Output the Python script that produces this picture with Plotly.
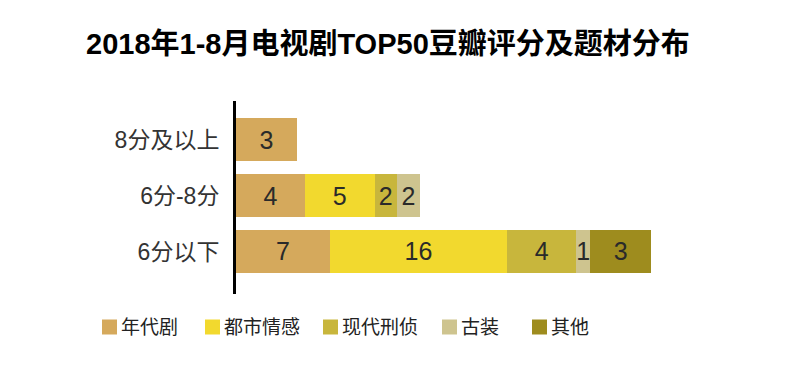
import plotly.graph_objects as go

# ---- data ----
categories = ["6分以下", "6分-8分", "8分及以上"]          # bottom -> top
genres = ["年代剧", "都市情感", "现代刑侦", "古装", "其他"]
# counts shown as labels on the bars
count_niandai = [7, 4, 3]
count_dushi = [16, 5, None]
count_xingzhen = [4, 2, None]
count_guzhuang = [1, 2, None]
count_qita = [3, None, None]
# drawn bar lengths (bars are not drawn to scale in the original)
len_niandai = [94, 69, 61]
len_dushi = [177, 69.6, None]
len_xingzhen = [69.3, 22.4, None]
len_guzhuang = [13.7, 23, None]
len_qita = [61.3, None, None]

colors = ["#D5A95C", "#F2D92E", "#C8B63C", "#CEC48F", "#9E8C1E"]

counts = [count_niandai, count_dushi, count_xingzhen, count_guzhuang, count_qita]
lengths = [len_niandai, len_dushi, len_xingzhen, len_guzhuang, len_qita]

# ---- layout constants (pixels) ----
W, H = 800, 369
L, T, B = 236, 101, 294
PW = 500
R = W - L - PW
PH = B - T

FONT = "Liberation Sans, Noto Sans CJK SC, sans-serif"

fig = go.Figure()
for g, c, n, ln in zip(genres, colors, counts, lengths):
    fig.add_trace(go.Bar(
        y=categories, x=ln, orientation="h", name=g,
        marker=dict(color=c, line=dict(width=0)),
        text=[str(v) if v is not None else "" for v in n],
        textposition="inside", insidetextanchor="middle", textangle=0,
        textfont=dict(family=FONT, size=25, color="#2a2a2a"),
        hoverinfo="skip",
    ))

# manual legend
leg_x = [102, 205, 323, 442, 532]
leg_y = 327
sq = 15
shapes = []
annotations = []
for g, c, lx in zip(genres, colors, leg_x):
    x0 = (lx - L) / PW
    x1 = (lx + sq - L) / PW
    y0 = (B - (leg_y + sq / 2)) / PH
    y1 = (B - (leg_y - sq / 2)) / PH
    shapes.append(dict(type="rect", xref="paper", yref="paper", x0=x0, x1=x1, y0=y0, y1=y1,
                       fillcolor=c, line=dict(width=0)))
    annotations.append(dict(xref="paper", yref="paper", x=(lx + sq + 2 - L) / PW,
                            y=(B - leg_y) / PH, text=g, showarrow=False,
                            xanchor="left", yanchor="middle",
                            font=dict(family=FONT, size=19, color="#222")))

fig.update_layout(
    width=W, height=H,
    margin=dict(l=L, r=R, t=T, b=H - B, pad=0),
    barmode="stack", bargap=0.23,
    plot_bgcolor="white", paper_bgcolor="white",
    showlegend=False,
    uniformtext=dict(minsize=25, mode="show"),
    title=dict(text="<b>2018年1-8月电视剧TOP50豆瓣评分及题材分布</b>",
               xref="container", yref="container", x=86 / W, xanchor="left",
               y=1 - 44 / H, yanchor="middle",
               font=dict(family=FONT, size=29, color="#000")),
    xaxis=dict(range=[0, PW], visible=False, fixedrange=True),
    yaxis=dict(range=[-0.76, 2.69], showline=True, linecolor="#000", linewidth=3,
               showgrid=False, zeroline=False, ticks="", ticklabelstandoff=9,
               tickfont=dict(family=FONT, size=23, color="#333"), fixedrange=True),
    shapes=shapes, annotations=annotations,
)

fig.write_html("out.html", config={"displayModeBar": False})
